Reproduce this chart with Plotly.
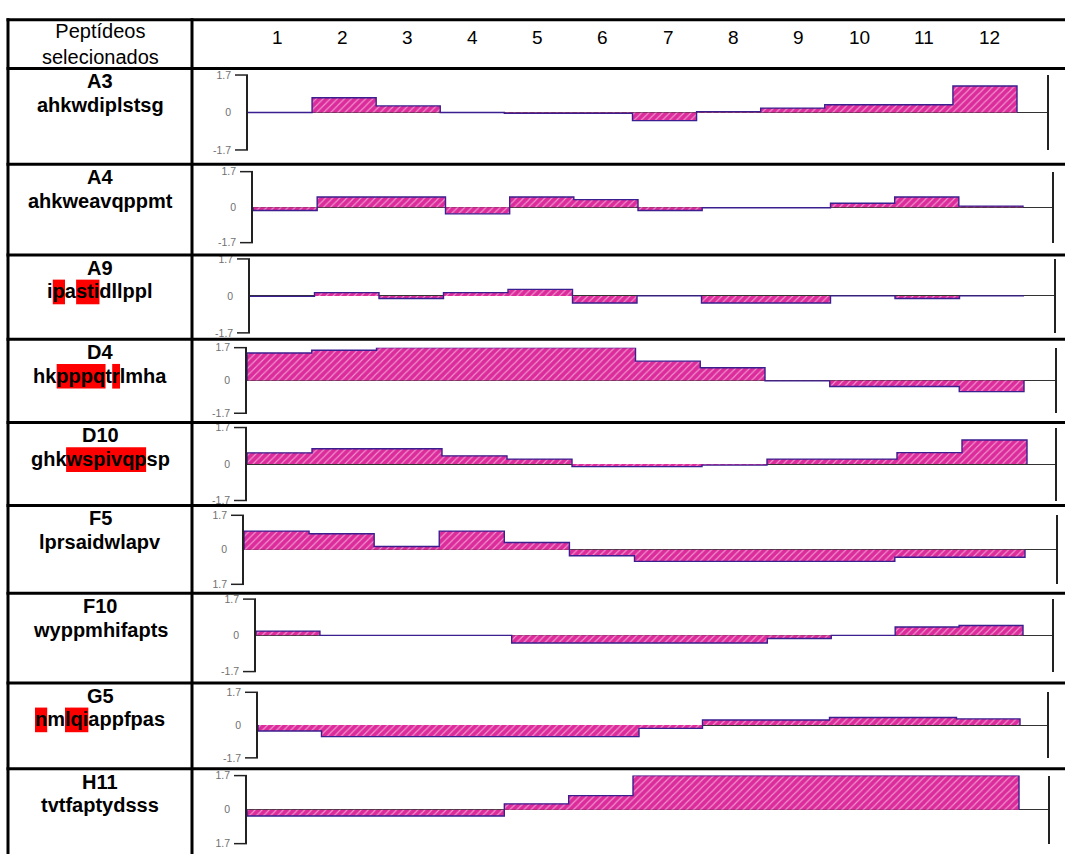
import plotly.graph_objects as go

W, H = 1065, 860

# ---------------- data ----------------
PEPTIDE_IDS = ["A3", "A4", "A9", "D4", "D10", "F5", "F10", "G5", "H11"]
SEQUENCES = ["ahkwdiplstsg", "ahkweavqppmt", "ipastidllppl", "hkpppqtrlmha",
             "ghkwspivqpsp", "lprsaidwlapv", "wyppmhifapts", "nmlqiappfpas",
             "tvtfaptydsss"]
# (start, end) character spans highlighted in red
HIGHLIGHTS = [[], [], [(1, 2), (3, 6)], [(2, 6), (7, 8)], [(3, 10)], [], [],
              [(0, 1), (2, 5)], []]
POSITIONS = list(range(1, 13))
POSITION_LABELS = [str(p) for p in POSITIONS]
HEADER_LABEL = "Peptídeos<br>selecionados"

A3 = [0.0, 0.67, 0.30, 0.0, -0.04, -0.04, -0.37, 0.04, 0.20, 0.35, 0.35, 1.20]
A4 = [-0.16, 0.49, 0.49, -0.32, 0.49, 0.36, -0.16, -0.03, -0.03, 0.19, 0.49, 0.05]
A9 = [-0.02, 0.15, -0.12, 0.15, 0.30, -0.33, 0.0, -0.33, -0.33, 0.0, -0.12, 0.0]
D4 = [1.42, 1.57, 1.70, 1.70, 1.70, 1.70, 1.00, 0.66, -0.02, -0.31, -0.31, -0.58]
D10 = [0.52, 0.71, 0.71, 0.38, 0.23, -0.12, -0.12, -0.05, 0.23, 0.23, 0.53, 1.12]
F5 = [0.92, 0.79, 0.16, 0.92, 0.36, -0.29, -0.57, -0.57, -0.57, -0.57, -0.37, -0.37]
F10 = [0.20, 0.0, 0.0, 0.0, -0.36, -0.36, -0.36, -0.36, -0.15, 0.0, 0.39, 0.46]
G5 = [-0.31, -0.60, -0.60, -0.60, -0.60, -0.60, -0.17, 0.26, 0.26, 0.39, 0.39, 0.32]
H11 = [-0.32, -0.32, -0.32, -0.32, 0.29, 0.70, 1.70, 1.70, 1.70, 1.70, 1.70, 1.70]
SERIES = [A3, A4, A9, D4, D10, F5, F10, G5, H11]

Y_TICK_VALS = [1.7, 0, -1.7]
Y_TICK_TEXT = [["1.7", "0", "-1.7"]] * 5 + [["1.7", "0", "1.7"]] + \
              [["1.7", "0", "-1.7"]] * 2 + [["1.7", "0", "1.7"]]

# ---------------- layout geometry (pixels) ----------------
ROW_TOPS = [63.5, 160.5, 252.5, 338, 422.5, 506.5, 595.5, 686.5, 773.5]
PLOT_TOP = [70, 168, 256.5, 346.5, 427.5, 516.5, 601.5, 696, 780.5]
PLOT_BOT = [146, 240, 331.5, 413, 501.5, 586.5, 675, 762.5, 849.5]
X0 = [248, 253, 250, 247, 247, 244, 256, 258, 247]
X1 = [1017, 1023, 1024, 1024, 1027, 1025, 1023, 1020, 1019]
XV = [1047, 1052, 1054, 1055, 1055, 1056, 1052, 1047, 1048]
TABLE_LEFT, COL_SEP, TABLE_TOP = 8, 192, 14
LABEL_CX = 100
HEADER_NUM_X = [277, 342, 407, 472, 537, 602, 668, 733, 798, 859, 924, 989]

FONT = "Liberation Sans, Arial, sans-serif"
SEQ_SIZE = 20
# Arial/Liberation Sans Bold advance widths (per 1000 em)
BOLD_W = dict(a=556, b=611, c=556, d=611, e=556, f=333, g=611, h=611, i=278,
              j=278, k=556, l=278, m=889, n=611, o=611, p=611, q=611, r=389,
              s=556, t=333, u=611, v=556, w=778, x=556, y=556, z=500)


def px(x):
    return x / W


def py(y):
    return 1 - y / H


fig = go.Figure()
layout = dict(width=W, height=H, margin=dict(l=0, r=0, t=0, b=0),
              autosize=False, paper_bgcolor="white", plot_bgcolor="rgba(0,0,0,0)",
              showlegend=False, font=dict(family=FONT, color="black"))
shapes = []
annotations = []

for i, vals in enumerate(SERIES):
    n = i + 1
    xa, ya = f"x{n}", f"y{n}"
    xs = [POSITIONS[0] - 1] + [p - 1 for p in POSITIONS] + [POSITIONS[-1], POSITIONS[-1]]
    ys = [0] + list(vals) + [vals[-1], 0]
    fig.add_trace(go.Scatter(
        x=xs, y=ys, xaxis=xa, yaxis=ya, mode="lines",
        line=dict(color="#3B1E8F", width=1.4, shape="hv"),
        fill="tozeroy", fillcolor="#DC2C9C",
        fillpattern=dict(shape="/", bgcolor="#DC2C9C", fgcolor="#FFFFFF",
                         size=5, solidity=0.22),
        cliponaxis=False, hoverinfo="skip"))
    xmax = len(POSITIONS) * (XV[i] - X0[i]) / (X1[i] - X0[i])
    layout[f"xaxis{n}"] = dict(domain=[px(X0[i]), px(XV[i])], range=[0, xmax],
                               visible=False, anchor=ya, fixedrange=True)
    layout[f"yaxis{n}"] = dict(domain=[py(PLOT_BOT[i]), py(PLOT_TOP[i])],
                               range=[-1.7, 1.7], anchor=xa,
                               tickvals=Y_TICK_VALS, ticktext=Y_TICK_TEXT[i],
                               ticks="outside", ticklen=13,
                               tickcolor="rgba(0,0,0,0)",
                               tickfont=dict(size=10.5, color="#707070"),
                               showline=True, linecolor="#222222", linewidth=1.5,
                               mirror=True, zeroline=True, zerolinecolor="#333333",
                               zerolinewidth=1, showgrid=False, layer="above traces",
                               fixedrange=True)
    # bracket stubs
    for yy in (PLOT_TOP[i], PLOT_BOT[i]):
        shapes.append(dict(type="line", xref="paper", yref="paper",
                           x0=px(X0[i] - 13), x1=px(X0[i]), y0=py(yy), y1=py(yy),
                           line=dict(color="#222222", width=1.5)))
    # row labels
    top = ROW_TOPS[i]
    annotations.append(dict(text=f"<b>{PEPTIDE_IDS[i]}</b>", x=px(LABEL_CX),
                            y=py(top + 13), xref="paper", yref="paper",
                            showarrow=False, xanchor="center", yanchor="middle",
                            font=dict(size=SEQ_SIZE, family=FONT, color="black")))
    seq = SEQUENCES[i]
    annotations.append(dict(text=f"<b>{seq}</b>", x=px(LABEL_CX),
                            y=py(top + 37), xref="paper", yref="paper",
                            showarrow=False, xanchor="center", yanchor="middle",
                            font=dict(size=SEQ_SIZE, family=FONT, color="black")))
    widths = [BOLD_W[c] * SEQ_SIZE / 1000 for c in seq]
    start = LABEL_CX - sum(widths) / 2
    for a, b in HIGHLIGHTS[i]:
        xa0 = start + sum(widths[:a])
        xa1 = start + sum(widths[:b])
        shapes.append(dict(type="rect", xref="paper", yref="paper", layer="below",
                           x0=px(xa0), x1=px(xa1), y0=py(top + 50), y1=py(top + 25),
                           fillcolor="#FF0000", line=dict(width=0)))

# table lines
row_lines = [TABLE_TOP] + ROW_TOPS
for yy in row_lines:
    shapes.append(dict(type="line", xref="paper", yref="paper",
                       x0=px(TABLE_LEFT - 1.5), x1=1.0, y0=py(yy), y1=py(yy),
                       line=dict(color="black", width=3)))
for xx in (TABLE_LEFT, COL_SEP):
    shapes.append(dict(type="line", xref="paper", yref="paper",
                       x0=px(xx), x1=px(xx), y0=py(TABLE_TOP - 1.5), y1=0,
                       line=dict(color="black", width=3)))

# header
annotations.append(dict(text=HEADER_LABEL, x=px(LABEL_CX), y=py(39),
                        xref="paper", yref="paper", showarrow=False,
                        xanchor="center", yanchor="middle",
                        font=dict(size=20, family=FONT, color="black")))
for lab, xx in zip(POSITION_LABELS, HEADER_NUM_X):
    annotations.append(dict(text=lab, x=px(xx), y=py(32), xref="paper",
                            yref="paper", showarrow=False, xanchor="center",
                            yanchor="middle",
                            font=dict(size=19, family=FONT, color="black")))

layout["shapes"] = shapes
layout["annotations"] = annotations
fig.update_layout(**layout)
fig.write_html(
    "out.html",
    config={"displayModeBar": False},
    post_script="document.body.style.margin='0';document.body.style.padding='0';"
                "document.body.style.overflow='hidden';",
)
